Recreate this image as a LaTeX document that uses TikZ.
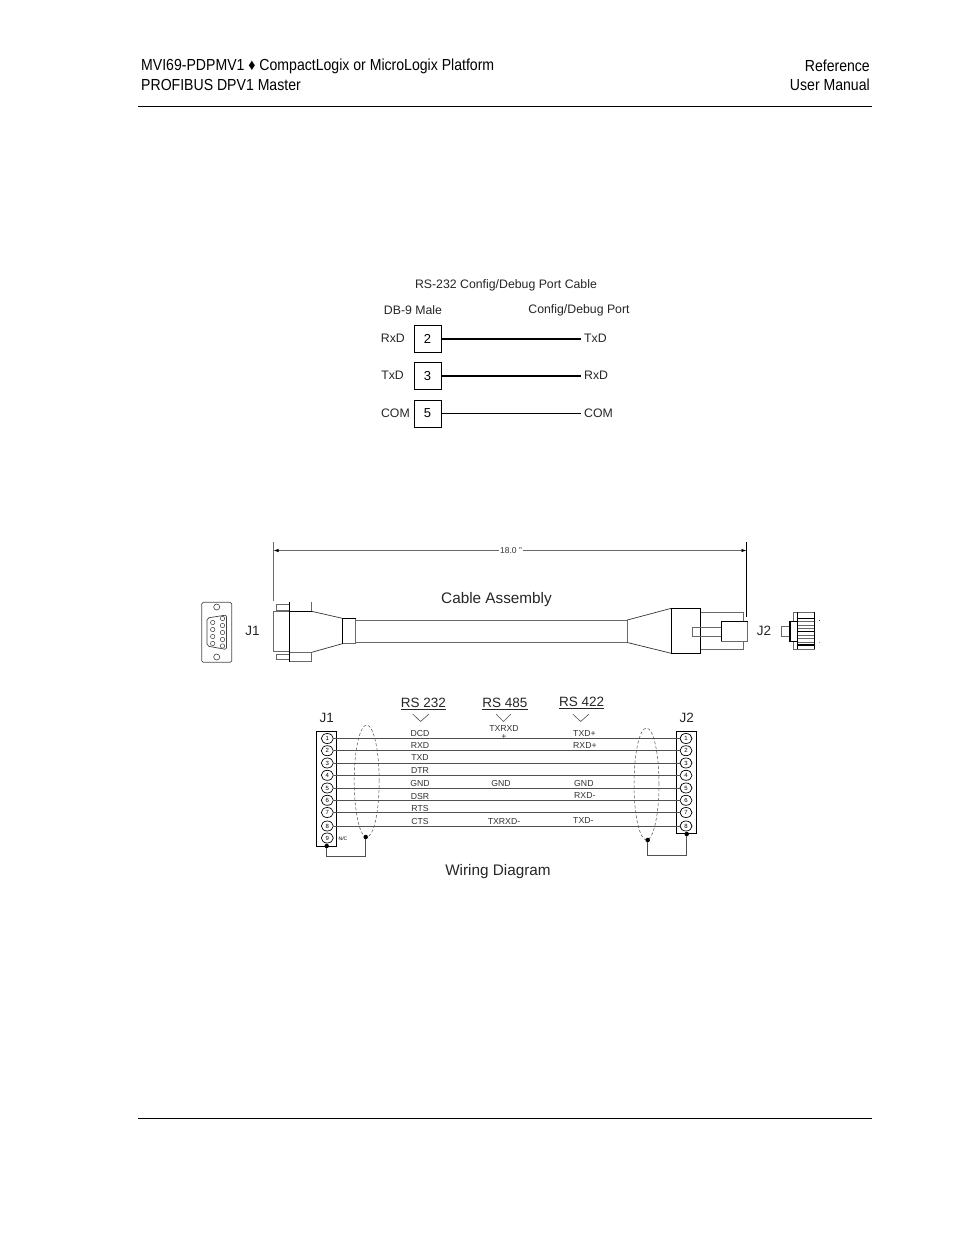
\documentclass[tikz,border=0pt]{standalone}
\usepackage{fontspec}
\setmainfont{Liberation Sans}
\newfontfamily\narrowfont[FakeStretch=.88]{Liberation Sans}
\usetikzlibrary{shapes.geometric, arrows.meta, positioning}
\definecolor{wiregray}{RGB}{80,80,80}
\definecolor{partgray}{RGB}{105,105,105}
\tikzset{
  headtext/.style={inner sep=0, font=\narrowfont\fontsize{16}{18}\selectfont},
  rulerline/.style={line width=.9pt, black},
  label12/.style={inner sep=0, text=black!85, font=\fontsize{12.3}{14}\selectfont},
  portbox/.style={draw, line width=1pt, inner sep=0, minimum width=27, minimum height=27, font=\fontsize{13}{15}\selectfont},
  title15/.style={inner sep=0, text=black!85, font=\fontsize{15.3}{18}\selectfont},
  title13/.style={inner sep=0, text=black!85, font=\fontsize{13.5}{16}\selectfont},
  wiretext/.style={inner sep=0, text=black!80, font=\fontsize{8.7}{10}\selectfont},
  pin/.style={draw, ellipse, fill=white, line width=.7pt, inner sep=0, minimum width=12, minimum height=10, font=\fontsize{6}{7}\selectfont},
  wire/.style={line width=.8pt, wiregray},
  part/.style={line width=.8pt, partgray},
  blackpart/.style={line width=1.1pt, black},
  shield/.style={draw, ellipse, densely dashed, line width=.5pt, wiregray, inner sep=0, minimum width=25, minimum height=112},
  dot/.style={circle, fill=black, inner sep=0, minimum size=4.5},
  vmark/.style={line width=.6pt, wiregray}
}
\begin{document}
\begin{tikzpicture}[x=1pt,y=-1pt]
    \useasboundingbox[fill=white] (0,0) rectangle (954,1235);

    % Page header and footer
    \node[headtext, anchor=west] (head1) at (141,66) {MVI69-PDPMV1 ♦ CompactLogix or MicroLogix Platform};
    \node[headtext, anchor=west] (head2) at (141,85) {PROFIBUS DPV1 Master};
    \node[headtext, anchor=east] (head3) at (870,66) {Reference};
    \node[headtext, anchor=east] (head4) at (870,85) {User Manual};
    \draw[rulerline] (138,106) -- (872,106);
    \draw[rulerline] (138,1118) -- (872,1118);

    % Nodes (config/debug cable)
    \node[label12] (cabletitle) at (506,285) {RS-232 Config/Debug Port Cable};
    \node[label12] (db9) at (413,310.5) {DB-9 Male};
    \node[label12] (debugport) at (579,310) {Config/Debug Port};
    \node[portbox] (box2) at (427.5,339) {2};
    \node[portbox] (box3) at (427.5,376) {3};
    \node[portbox] (box5) at (427.5,413.5) {5};
    \node[label12, anchor=east] (rxdL) at (405,338.5) {RxD};
    \node[label12, anchor=east] (txdL) at (404,375) {TxD};
    \node[label12, anchor=east] (comL) at (410,413) {COM};
    \node[label12, anchor=west] (txdR) at (584,338) {TxD};
    \node[label12, anchor=west] (rxdR) at (584,375) {RxD};
    \node[label12, anchor=west] (comR) at (584,413) {COM};

    % Edges (config/debug cable)
    \draw[line width=1.1pt] (box2.east) -- ++(139,0);
    \draw[line width=1.1pt] (box3.east) -- ++(139,0);
    \draw[line width=.7pt] (box5.east) -- ++(139,0);

    % Dimension line
    \coordinate (dimL) at (273.5,550.5);
    \coordinate (dimR) at (746.5,550.5);
    \node[inner sep=1, text=black!80, font=\fontsize{8.5}{10}\selectfont] (dimtext) at (511,550.5) {18.0 "};
    \draw[part] (dimL |- 0,542) -- (dimL |- 0,601);
    \draw[line width=1pt] (dimR |- 0,542) -- (dimR |- 0,617);
    \draw[part, -{Latex[length=5,width=3.5,black]}] (dimtext) -- (dimL);
    \draw[part, -{Latex[length=5,width=3.5,black]}] (dimtext) -- (dimR);

    % Cable assembly labels
    \node[title15] (cabletext) at (496.5,600) {Cable Assembly};
    \node[title13] (j1top) at (252.5,631) {J1};
    \node[title13] (j2top) at (764,631) {J2};

    % DB-9 face
    \draw[line width=.7pt, black!70, rounded corners=1.5] (201.7,602.3) rectangle (231.7,662.3);
    \draw[line width=.6pt, black!75] (216.7,607) circle (3);
    \draw[line width=.6pt, black!75] (216.7,657) circle (3);
    \draw[line width=.7pt, black!75, rounded corners=2] (207,618) -- (226.5,615) -- (226.5,649.5) -- (207,646) -- cycle;
    \foreach \y in {622.5,629.5,636.5,643.5} \draw[line width=.5pt, black!75] (212.7,\y) circle (2.2);
    \foreach \y in {618.5,625.5,632.5,639.5,646} \draw[line width=.5pt, black!75] (222.5,\y) circle (2.2);

    % J1 plug
    \draw[part] (276.3,604) rectangle (289.3,610);
    \draw[part] (276.3,654) rectangle (289.3,659.5);
    \draw[part] (273.5,611.7) rectangle (289.3,651.7);
    \draw[part] (311.7,601.7) -- (311.7,611.3);
    \draw[part] (289.3,652.3) rectangle (311.7,661.7);
    \draw[blackpart] (289.3,601.7) -- (289.3,661.7);
    \draw[blackpart] (289.3,611.3) -- (311.7,611.3);
    \draw[line width=.7pt, black!80] (311.7,611.3) -- (342.3,618.3);
    \draw[line width=.7pt, black!80] (311.7,652.3) -- (342.3,643.7);
    \draw[part] (342.3,618.3) rectangle (355.7,643.7);
    \draw[blackpart] (355.7,618.3) -- (342.3,618.3) -- (342.3,643.7);

    % Cable
    \draw[part] (355.7,620) -- (627.3,620);
    \draw[part] (355.7,642.5) -- (627.3,642.5);
    \draw[part] (627.3,620) -- (627.3,642.5);
    \draw[line width=.7pt, black!80] (627.3,620) -- (671.3,608.3);
    \draw[line width=.7pt, black!80] (627.3,642.5) -- (671.3,653.3);

    % J2 plug
    \draw[part] (700.7,612.3) rectangle (743.3,649.3);
    \draw[part] (692.3,627) rectangle (721.3,636.3);
    \draw[blackpart, fill=white] (671.3,608.3) rectangle (700.7,653.3);
    \draw[part] (692.3,627) -- (721.3,627);
    \draw[part] (692.3,636.3) -- (721.3,636.3);
    \draw[part] (692.3,627) -- (692.3,636.3);
    \draw[part, fill=white] (721.3,621.3) rectangle (747.7,641.3);
    \draw[blackpart] (747.7,621.3) -- (721.3,621.3) -- (721.3,641.3);

    % J2 end view
    \draw[part] (781,626.3) rectangle (790,636.3);
    \draw[part] (793.3,612.3) rectangle (814.7,649.3);
    \foreach \y in {621.5,625,628.5,635,638.5,642} \draw[part] (797.3,\y) -- (814.7,\y);
    \foreach \y in {618.3,631.7,645} \draw[blackpart] (797.3,\y) -- (814.7,\y);
    \draw[blackpart, fill=white] (790,621.3) rectangle (797.3,641.3);
    \draw[blackpart] (797.3,612.3) -- (797.3,649.3);
    \draw[blackpart] (814.7,612.3) -- (814.7,649.3);
    \fill[black!70] (818.5,619.5) rectangle (820,621);
    \fill[black!40] (818.5,641.5) rectangle (820,643);

    % Nodes (wiring diagram)
    \node[title13] (j1wire) at (326.7,717.5) {J1};
    \node[title13] (j2wire) at (686.7,717.5) {J2};
    \node[title13] (rs232) at (423.5,704) {\underline{RS 232}};
    \node[title13] (rs485) at (505,704) {\underline{RS 485}};
    \node[title13] (rs422) at (581.7,703) {\underline{RS 422}};
    \draw[vmark] (412.7,714) -- (420.5,721.5) -- (429,714);
    \draw[vmark] (496,714) -- (503.5,721.5) -- (511,714);
    \draw[vmark] (572.7,714) -- (580.7,721.5) -- (589,714);

    \node[draw, line width=.9pt, inner sep=0, minimum width=20.4, minimum height=114.3] (boxJ1) at (326.5,788.8) {};
    \node[draw, line width=.9pt, inner sep=0, minimum width=20, minimum height=101.6] (boxJ2) at (686.7,782.5) {};
    \foreach \i/\y in {1/738.5,2/750.7,3/763,4/775.3,5/788,6/800.3,7/812.5,8/826}{
        \node[pin] (pa\i) at (327.3,\y) {\i};
        \node[pin] (pb\i) at (686,\y) {\i};
    }
    \node[pin] (pa9) at (327.3,838) {9};
    \node[inner sep=0, font=\fontsize{5}{6}\selectfont] (nc) at (343,839) {N/C};

    % Shields
    \node[shield] (shieldL) at (366.7,781) {};
    \node[shield] (shieldR) at (646.5,784) {};

    % Edges (wires)
    \foreach \i in {1,...,8} \draw[wire] (pa\i) -- (pb\i);

    % Wire names
    \foreach \t/\y in {DCD/733,RXD/745,TXD/757.5,DTR/770,GND/783,DSR/796,RTS/808,CTS/821}
        \node[wiretext] (n\t) at (420,\y) {\t};
    \node[wiretext] (txrxdp) at (504,728) {TXRXD};
    \node[wiretext] (plus) at (504,737) {+};
    \node[wiretext] (gnd485) at (501,783.5) {GND};
    \node[wiretext] (txrxdm) at (504,821.5) {TXRXD-};
    \node[wiretext, anchor=west] (txdp) at (573,733.5) {TXD+};
    \node[wiretext, anchor=west] (rxdp) at (573,745.5) {RXD+};
    \node[wiretext, anchor=west] (gnd422) at (574,783.5) {GND};
    \node[wiretext, anchor=west] (rxdm) at (574,795.5) {RXD-};
    \node[wiretext, anchor=west] (txdm) at (573,820.5) {TXD-};

    % Drain wires
    \node[dot] (dotJ1) at (326.7,846) {};
    \node[dot] (dotSL) at (365.7,837) {};
    \node[dot] (dotSR) at (647.7,840) {};
    \node[dot] (dotJ2) at (686.7,834) {};
    \coordinate (drainL) at (326.7,856);
    \coordinate (drainR) at (686.7,855);
    \draw[wire] (dotJ1) -- (drainL) -| (dotSL);
    \draw[wire] (dotJ2) -- (drainR) -| (dotSR);

    \node[title15] (wiringtext) at (498,872) {Wiring Diagram};
\end{tikzpicture}
\end{document}
